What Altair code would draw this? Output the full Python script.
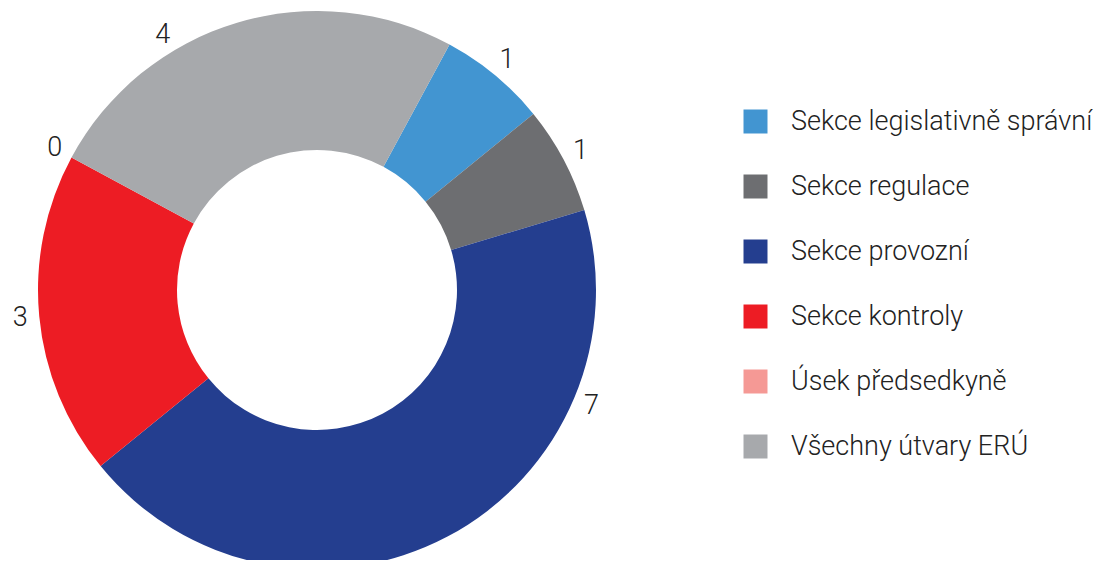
import altair as alt
import pandas as pd

categories = ["Sekce legislativně správní", "Sekce regulace", "Sekce provozní",
              "Sekce kontroly", "Úsek předsedkyně", "Všechny útvary ERÚ"]
values = [1, 1, 7, 3, 0, 4]
colors = ["#4295d1", "#6d6e71", "#243e8f", "#ed1c24", "#f59995", "#a7a9ac"]

df = pd.DataFrame({"kategorie": categories, "pocet": values,
                   "poradi": list(range(len(categories)))})

PI = 3.141592653589793
start = 0.495
cx, cy = 309, 282
r_lab = 298
y_min, y_max = 27, 398          # label area limits (best-fit placement)
c1 = (cy - y_min) / r_lab
c2 = (y_max - cy) / r_lab

theta_scale = alt.Scale(range=[start, start + 2 * PI])
color = alt.Color("kategorie:N",
                  scale=alt.Scale(domain=categories, range=colors),
                  sort=categories,
                  legend=alt.Legend(title=None, orient="none", legendX=734, legendY=100,
                                    symbolType="square", symbolSize=576, symbolStrokeWidth=0,
                                    labelFontSize=27, labelFont="Roboto", labelColor="#222222",
                                    labelFontWeight=300,
                                    labelOffset=22, rowPadding=37, labelLimit=400))

arcs = alt.Chart(df).mark_arc(innerRadius=140, outerRadius=279, strokeWidth=0).encode(
    theta=alt.Theta("pocet:Q", stack=True, scale=theta_scale),
    order=alt.Order("poradi:Q"),
    color=color, x=alt.value(cx), y=alt.value(cy))

labels = alt.Chart(df).transform_window(
    cum="sum(pocet)", sort=[alt.SortField("poradi")]
).transform_joinaggregate(
    total="sum(pocet)"
).transform_calculate(
    mid=f"{start} + 2*PI*(datum.cum - datum.pocet/2)/datum.total"
).transform_calculate(
    ang=(f"cos(datum.mid) > {c1} ? (sin(datum.mid) >= 0 ? acos({c1}) : 2*PI - acos({c1})) : "
         f"(cos(datum.mid) < {-c2} ? (sin(datum.mid) >= 0 ? acos({-c2}) : 2*PI - acos({-c2})) : datum.mid)")
).mark_text(radius=r_lab, fontSize=27, font="Roboto", fontWeight=300,
            color="#222222").encode(
    theta=alt.Theta("ang:Q", stack=False,
                    scale=alt.Scale(domain=[0, 2 * PI], range=[0, 2 * PI])),
    text="pocet:Q", x=alt.value(cx), y=alt.value(cy))

chart = (arcs + labels).resolve_scale(theta="independent").properties(
    width=1089, height=552, padding=0, autosize=alt.AutoSizeParams(type="none")
).configure_view(stroke=None)

chart.save("out.html", embed_options={"renderer": "svg", "actions": False})
